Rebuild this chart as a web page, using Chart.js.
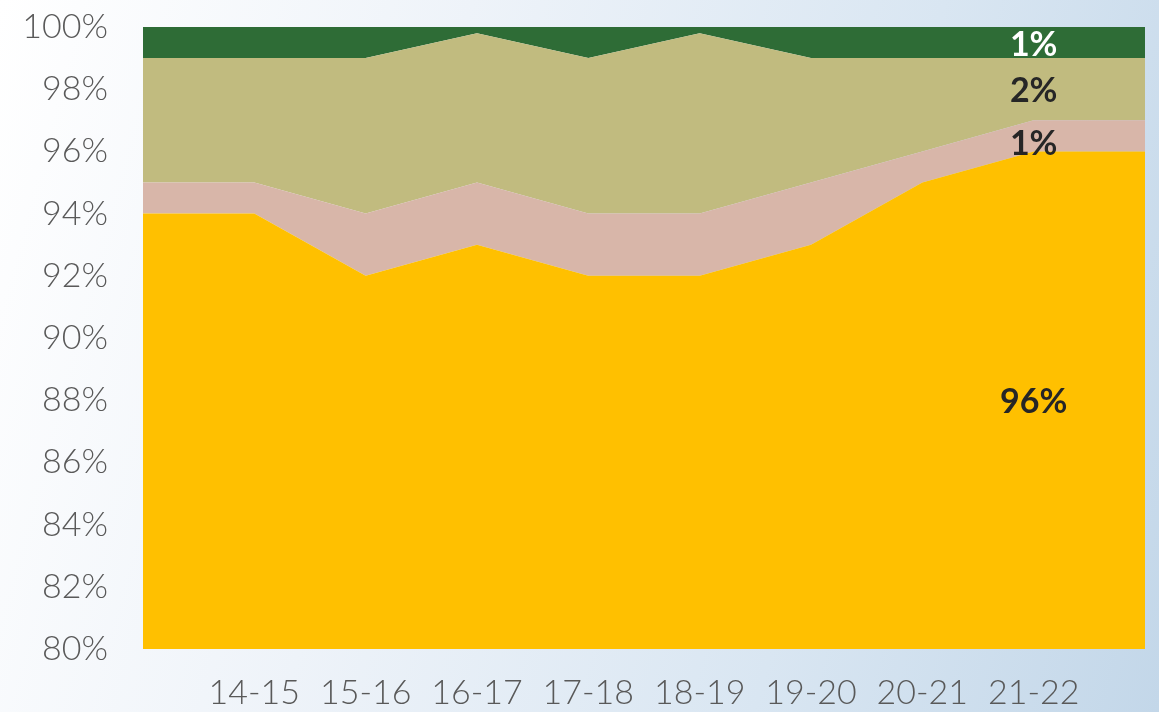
<!DOCTYPE html>
<html>
<head>
<meta charset="utf-8">
<script src="https://cdn.jsdelivr.net/npm/chart.js@4"></script>
<style>
  html, body { margin: 0; padding: 0; }
  body {
    width: 1159px; height: 712px; overflow: hidden;
    background: linear-gradient(105deg, #ffffff 0%, #eef3f9 35%, #d9e6f2 70%, #c3d7e9 100%);
  }
  #wrap { position: relative; width: 1159px; height: 712px; }
  canvas { display: block; }
</style>
</head>
<body>
<div id="wrap"><canvas id="chart" width="1159" height="712"></canvas></div>
<script>
"use strict";

// data (percent share per year, stacked)
const years = ["", "14-15", "15-16", "16-17", "17-18", "18-19", "19-20", "20-21", "21-22", ""];
const yellowVals = [94, 94, 92, 93, 92, 92, 93, 95, 96, 96];
const pinkVals   = [1, 1, 2, 2, 2, 2, 2, 1, 1, 1];
const khakiVals  = [4, 4, 5, 4.8, 5, 5.8, 4, 3, 2, 2];
const greenVals  = [1, 1, 1, 0.2, 1, 0.2, 1, 1, 1, 1];
const yTicks = [80, 82, 84, 86, 88, 90, 92, 94, 96, 98, 100];
const labelIndex = 8; // labels on 21-22

const labelColors = ["#262626", "#262626", "#262626", "#ffffff"];

// draw value labels in the middle of each band at 21-22
let bandLabels = {
  id: "bandLabels",
  afterDatasetsDraw(chart) {
    let ctx = chart.ctx;
    let bottom = chart.chartArea.bottom;
    ctx.save();
    ctx.font = "bold 34px Lato";
    ctx.textAlign = "center";
    ctx.textBaseline = "middle";
    chart.data.datasets.forEach((ds, i) => {
      let pt = chart.getDatasetMeta(i).data[labelIndex];
      let below = i === 0 ? bottom : chart.getDatasetMeta(i - 1).data[labelIndex].y;
      ctx.fillStyle = labelColors[i];
      let shift = i === 1 ? 8 : 2;
      ctx.fillText(Math.round(ds.data[labelIndex]) + "%", pt.x, (pt.y + below) / 2 + shift);
    });
    ctx.restore();
  }
};

let makeSet = (label, data, color, fill) => ({
  label: label,
  data: data,
  backgroundColor: color,
  borderColor: color,
  borderWidth: 0,
  pointRadius: 0,
  tension: 0,
  fill: fill
});

let chart = new Chart(document.querySelector("#chart"), {
  type: "line",
  data: {
    labels: years,
    datasets: [
      makeSet("A", yellowVals, "#ffc000", "origin"),
      makeSet("B", pinkVals, "#d8b6a9", "-1"),
      makeSet("C", khakiVals, "#c1bb7f", "-1"),
      makeSet("D", greenVals, "#2e6c36", "-1")
    ]
  },
  options: {
    responsive: false,
    animation: false,
    layout: { padding: { top: 27, right: 14, left: 0, bottom: 0 } },
    plugins: { legend: { display: false }, tooltip: { enabled: false } },
    scales: {
      x: {
        offset: false,
        grid: { display: false },
        border: { display: false },
        ticks: {
          color: "#595959",
          font: { family: "Lato", size: 34, weight: 300 },
          padding: 16,
          maxRotation: 0,
          autoSkip: false
        },
        afterFit: s => { s.height = 63; s.paddingLeft = 0; s.paddingRight = 0; }
      },
      y: {
        stacked: true,
        min: 80,
        max: 100,
        grid: { display: false },
        border: { display: false },
        afterBuildTicks: s => { s.ticks = yTicks.map(v => ({ value: v })); },
        ticks: {
          color: "#595959",
          font: { family: "Lato", size: 34, weight: 300 },
          padding: 27,
          callback: v => v + "%"
        },
        afterFit: s => { s.width = 143; s.paddingTop = 0; s.paddingBottom = 0; }
      }
    }
  },
  plugins: [bandLabels]
});
</script>
</body>
</html>
